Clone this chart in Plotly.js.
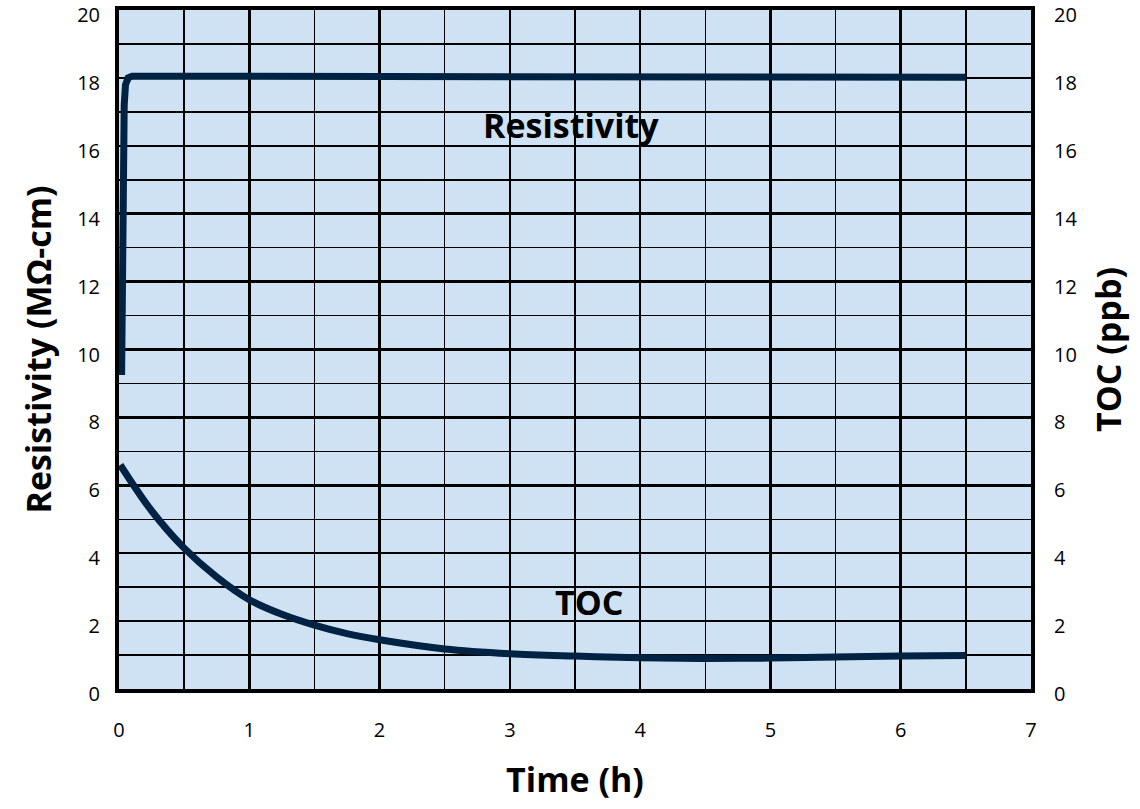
<!DOCTYPE html>
<html>
<head>
<meta charset="utf-8">
<script src="https://cdn.plot.ly/plotly-3.0.1.min.js"></script>
<style>html,body{margin:0;padding:0;background:#fff;}#chart{width:1140px;height:809px;}</style>
</head>
<body>
<div id="chart"></div>
<script>
// Resistivity (MΩ-cm) vs time (h)
const timeRes = [0.02, 0.025, 0.03, 0.04, 0.05, 0.07, 0.1, 0.15, 1, 2, 3, 4, 5, 6, 6.5];
const resistivity = [9.25, 12, 15, 17.2, 17.8, 18.0, 18.05, 18.05, 18.05, 18.05, 18.04, 18.03, 18.02, 18.02, 18.02];

// TOC (ppb) vs time (h)
const timeToc = [0.01, 0.25, 0.5, 0.75, 1, 1.25, 1.5, 1.75, 2, 2.5, 3, 3.5, 4, 4.5, 5, 5.5, 6, 6.5];
const toc = [6.6, 5.25, 4.15, 3.3, 2.63, 2.2, 1.88, 1.63, 1.45, 1.18, 1.04, 0.97, 0.92, 0.9, 0.91, 0.94, 0.97, 0.99];

const xTicks = [0, 1, 2, 3, 4, 5, 6, 7];
const yTicks = [0, 2, 4, 6, 8, 10, 12, 14, 16, 18, 20];

const lineColor = '#002344';
const font = 'Open Sans, Lato, sans-serif';

const traces = [
  {x: timeRes, y: resistivity, mode: 'lines', line: {color: lineColor, width: 7}, yaxis: 'y', hoverinfo: 'skip'},
  {x: timeToc, y: toc, mode: 'lines', line: {color: lineColor, width: 7, shape: 'spline', smoothing: 1}, yaxis: 'y2', hoverinfo: 'skip'}
];

const layout = {
  width: 1140, height: 809,
  margin: {l: 119, r: 109, t: 10, b: 120, pad: 0},
  paper_bgcolor: '#ffffff',
  plot_bgcolor: '#cfe2f3',
  showlegend: false,
  font: {family: font, color: '#000', size: 19},
  xaxis: {
    range: [0, 7], tickvals: xTicks, ticktext: xTicks.map(String),
    showgrid: true, gridcolor: '#000', gridwidth: 2.5,
    minor: {dtick: 0.5, tick0: 0, showgrid: true, gridcolor: '#000', gridwidth: 1.5},
    showline: true, linecolor: '#000', linewidth: 4, mirror: true,
    zeroline: false, ticks: '', ticklabelstandoff: 20,
    tickfont: {size: 20, family: font},
    title: {text: '<b>Time (h)</b>', font: {size: 34, family: font}, standoff: 27}
  },
  yaxis: {
    range: [0, 20.0001], tickvals: yTicks, ticktext: yTicks.map(String),
    showgrid: true, gridcolor: '#000', gridwidth: 2.5,
    minor: {dtick: 1, tick0: 0, showgrid: true, gridcolor: '#000', gridwidth: 1.5},
    showline: true, linecolor: '#000', linewidth: 4, mirror: true,
    zeroline: false, ticks: '', ticklabelstandoff: 11, ticklabelshift: 5,
    tickfont: {size: 20, family: font},
    title: {text: '<b>Resistivity (MΩ-cm)</b>', font: {size: 34, family: font}, standoff: 16}
  },
  yaxis2: {
    range: [0, 20.0001], tickvals: yTicks, ticktext: yTicks.map(String),
    overlaying: 'y', side: 'right', showgrid: false, zeroline: false, showline: false,
    ticks: '', ticklabelstandoff: 22, ticklabelshift: 5,
    tickfont: {size: 20, family: font},
    title: {text: '<b>TOC (ppb)</b>', font: {size: 34, family: font}, standoff: 20}
  },
  annotations: [
    {x: 3.47, y: 16.6, xref: 'x', yref: 'y', text: '<b>Resistivity</b>', showarrow: false, font: {size: 34, family: font, color: '#000'}},
    {x: 3.61, y: 2.55, xref: 'x', yref: 'y', text: '<b>TOC</b>', showarrow: false, font: {size: 34, family: font, color: '#000'}}
  ]
};

Plotly.newPlot('chart', traces, layout, {staticPlot: true, displayModeBar: false});
</script>
</body>
</html>
